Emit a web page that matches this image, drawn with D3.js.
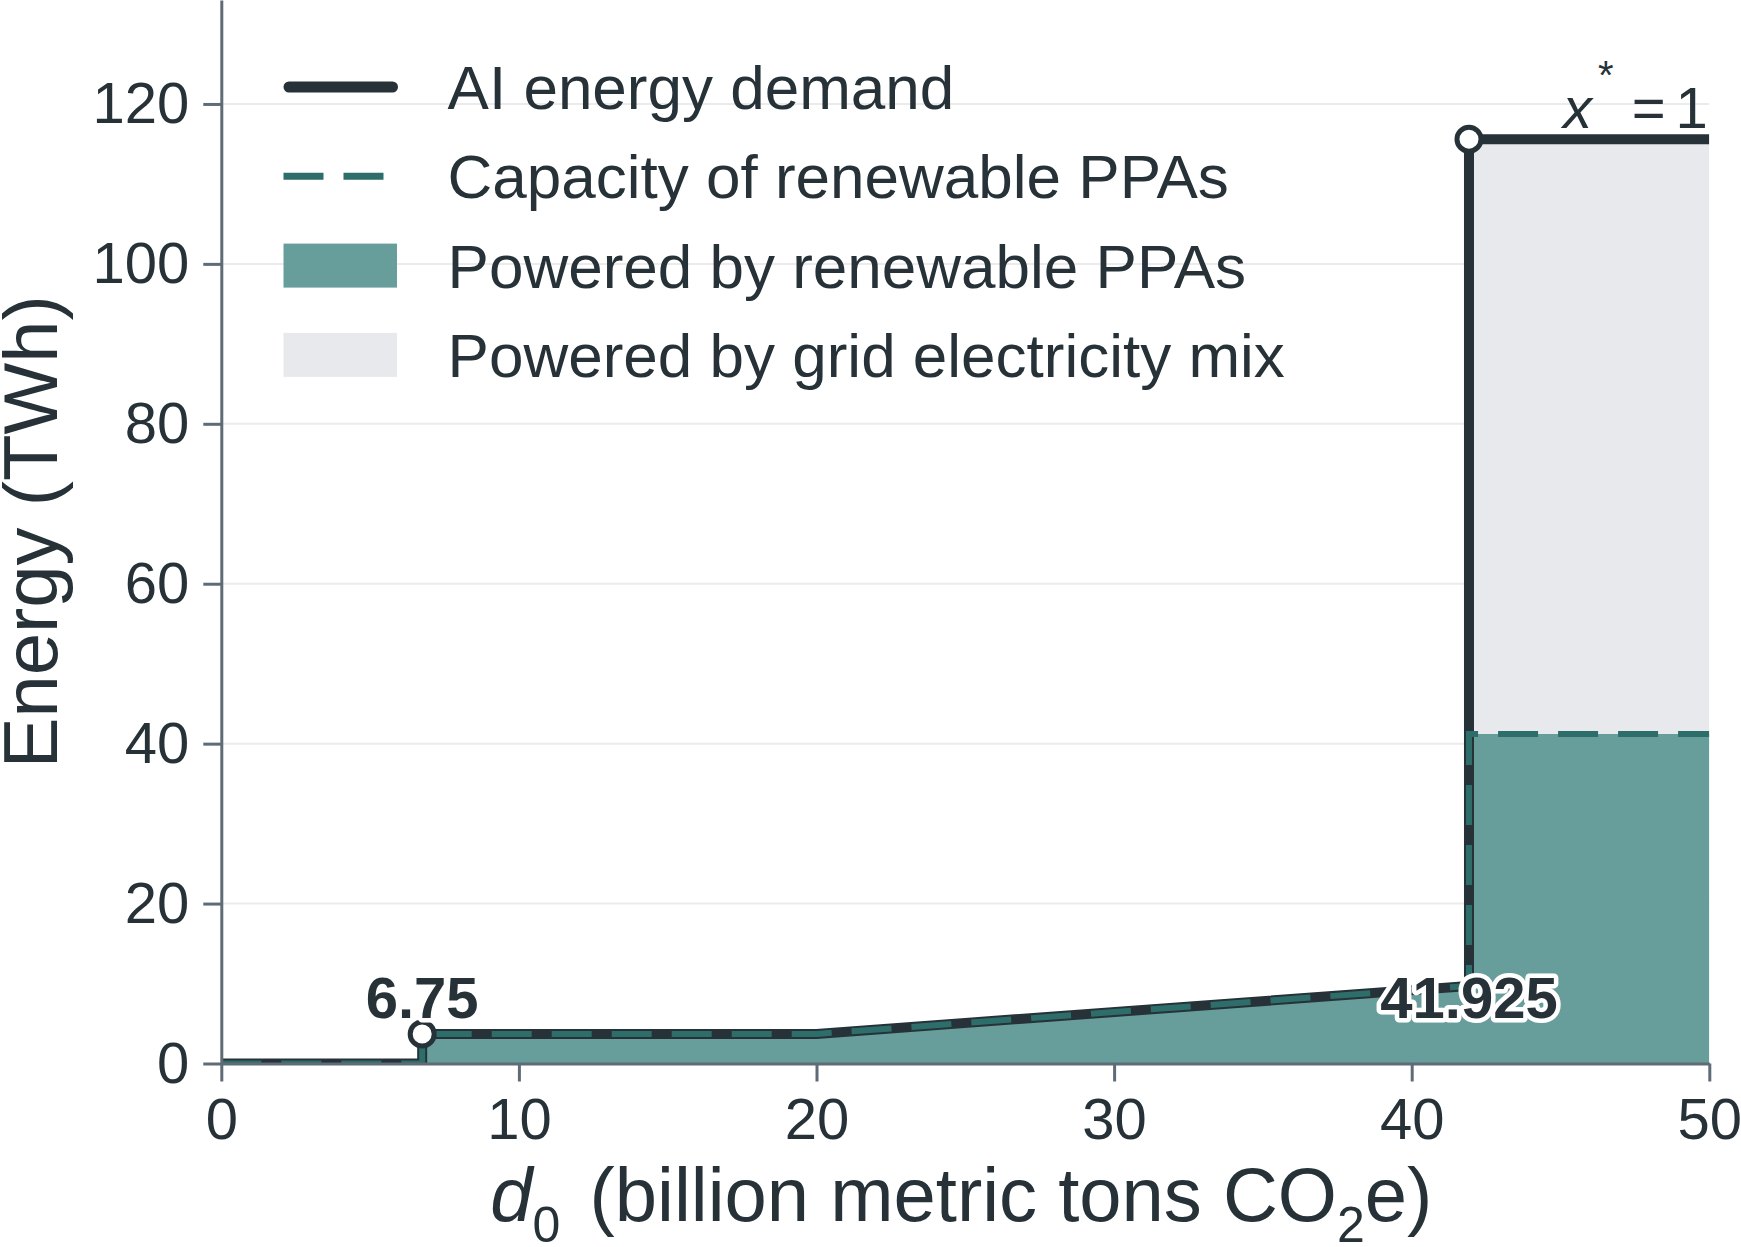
<!DOCTYPE html>
<html>
<head>
<meta charset="utf-8">
<script src="https://cdn.jsdelivr.net/npm/d3@7"></script>
<style>
body { margin: 0; background: #fff; }
text { font-family: "Liberation Sans", Arial, sans-serif; fill: #263238; }
</style>
</head>
<body>
<script>
// d0 breakpoints and the two step curves
var d0 = [0, 6.75, 6.75, 20, 41.925, 41.925, 50];
var demand = [0, 0, 3.7, 3.7, 9.7, 115.6, 115.6];
var ppaCapacity = [0, 0, 3.7, 3.7, 9.7, 41.2, 41.2];

var xTicks = [0, 10, 20, 30, 40, 50];
var yTicks = [0, 20, 40, 60, 80, 100, 120];

var markerX = [6.75, 41.925];
var markerY = [3.7, 115.6];
var markerLabels = ["6.75", "41.925"];

var legendLabels = ["AI energy demand", "Capacity of renewable PPAs",
                    "Powered by renewable PPAs", "Powered by grid electricity mix"];

var W = 1741, H = 1247;
var margin = {left: 221.3, right: 31.7, top: 0, bottom: 183.5};

var dark = "#263238", teal = "#2e6e6a", tealFill = "#679d9b",
    greyFill = "#e8e9ed", axisCol = "#5f6b76", gridCol = "#ebebeb";

var x = d3.scaleLinear().domain([0, 50]).range([margin.left, W - margin.right]);
var y = d3.scaleLinear().domain([0, 133]).range([H - margin.bottom, margin.top]);

var svg = d3.select("body").append("svg")
    .attr("width", W)
    .attr("height", H);

svg.append("defs").append("clipPath").attr("id", "plot")
    .append("rect")
    .attr("x", x(0)).attr("y", y(133))
    .attr("width", x(50) - x(0)).attr("height", y(0) - y(133));

// grid
svg.append("g").selectAll("line")
    .data(yTicks).enter().append("line")
    .attr("x1", x(0)).attr("x2", x(50))
    .attr("y1", function (d) { return y(d); })
    .attr("y2", function (d) { return y(d); })
    .attr("stroke", gridCol)
    .attr("stroke-width", 2);

var pts = d0.map(function (d, i) {
    return {x: d, dem: demand[i], ppa: ppaCapacity[i]};
});

var plot = svg.append("g").attr("clip-path", "url(#plot)");

plot.append("path").datum(pts)
    .attr("fill", greyFill)
    .attr("d", d3.area()
        .x(function (d) { return x(d.x); })
        .y0(function (d) { return y(Math.min(d.ppa, d.dem)); })
        .y1(function (d) { return y(d.dem); }));

plot.append("path").datum(pts)
    .attr("fill", tealFill)
    .attr("d", d3.area()
        .x(function (d) { return x(d.x); })
        .y0(y(0))
        .y1(function (d) { return y(Math.min(d.ppa, d.dem)); }));

plot.append("path").datum(pts)
    .attr("fill", "none")
    .attr("stroke", dark)
    .attr("stroke-width", 10)
    .attr("stroke-linejoin", "round")
    .attr("d", d3.line()
        .x(function (d) { return x(d.x); })
        .y(function (d) { return y(d.dem); }));

plot.append("path").datum(pts)
    .attr("fill", "none")
    .attr("stroke", teal)
    .attr("stroke-width", 6)
    .attr("stroke-dasharray", "40,20")
    .attr("d", d3.line()
        .x(function (d) { return x(d.x); })
        .y(function (d) { return y(d.ppa); }));

// axes
var yAxis = svg.append("g")
    .attr("transform", "translate(" + x(0) + ",0)")
    .call(d3.axisLeft(y).tickValues(yTicks).tickSize(18).tickSizeOuter(0).tickPadding(14));
var xAxis = svg.append("g")
    .attr("transform", "translate(0," + y(0) + ")")
    .call(d3.axisBottom(x).tickValues(xTicks).tickSize(18).tickSizeOuter(0).tickPadding(16));

[xAxis, yAxis].forEach(function (g) {
    g.select(".domain").attr("stroke", axisCol).attr("stroke-width", 3);
    g.selectAll(".tick line").attr("stroke", axisCol).attr("stroke-width", 3);
    g.selectAll(".tick text")
        .attr("fill", dark)
        .style("font-size", "58px")
        .style("font-family", "Liberation Sans, Arial, sans-serif");
});

// markers and labels
markerX.forEach(function (mx, i) {
    svg.append("circle")
        .attr("cx", x(mx)).attr("cy", y(markerY[i]))
        .attr("r", 12)
        .attr("fill", "#fff")
        .attr("stroke", dark)
        .attr("stroke-width", 5);
});

markerX.forEach(function (mx, i) {
    svg.append("text")
        .attr("x", x(mx)).attr("y", y(0) - 46)
        .attr("text-anchor", "middle")
        .style("font-size", "58px")
        .style("font-weight", "bold")
        .style("paint-order", "stroke")
        .style("stroke", "#fff")
        .style("stroke-width", 9)
        .style("stroke-linejoin", "round")
        .text(markerLabels[i]);
});

// x* = 1
var xs = svg.append("text")
    .attr("x", x(50) - 1.5).attr("y", 128)
    .attr("text-anchor", "end")
    .style("font-size", "58px");
xs.append("tspan").style("font-style", "italic").text("x");
xs.append("tspan").attr("dx", 6).attr("dy", -39).style("font-size", "40px").text("*");
xs.append("tspan").attr("dx", 18).attr("dy", 39).text("=");
xs.append("tspan").attr("dx", 10).text("1");

// axis titles
var xl = svg.append("text")
    .attr("x", (x(0) + x(50)) / 2 - 4).attr("y", 1221)
    .attr("text-anchor", "middle")
    .style("font-size", "76px");
xl.append("tspan").style("font-style", "italic").text("d");
xl.append("tspan").attr("dy", 21).style("font-size", "50px").text("0");
xl.append("tspan").attr("dy", -21).attr("dx", 8).text(" (billion metric tons CO");
xl.append("tspan").attr("dy", 21).style("font-size", "50px").text("2");
xl.append("tspan").attr("dy", -21).text("e)");

svg.append("text")
    .attr("transform", "translate(57," + (y(0) + y(133)) / 2 + ") rotate(-90)")
    .attr("text-anchor", "middle")
    .style("font-size", "76px")
    .text("Energy (TWh)");

// legend
var lx = 283.5, lTextX = 447.6, lBase = 109, lStep = 89.3;
var leg = svg.append("g");
leg.append("line")
    .attr("x1", lx + 5.5).attr("x2", lx + 109)
    .attr("y1", lBase - 22).attr("y2", lBase - 22)
    .attr("stroke", dark).attr("stroke-width", 11).attr("stroke-linecap", "round");
leg.append("line")
    .attr("x1", lx).attr("x2", lx + 100)
    .attr("y1", lBase + lStep - 22).attr("y2", lBase + lStep - 22)
    .attr("stroke", teal).attr("stroke-width", 7).attr("stroke-dasharray", "40,20");
leg.append("rect")
    .attr("x", lx).attr("y", lBase + 2 * lStep - 44)
    .attr("width", 113.5).attr("height", 44)
    .attr("fill", tealFill);
leg.append("rect")
    .attr("x", lx).attr("y", lBase + 3 * lStep - 44)
    .attr("width", 113.5).attr("height", 44)
    .attr("fill", greyFill);
leg.selectAll("text.lab")
    .data(legendLabels).enter().append("text")
    .attr("class", "lab")
    .attr("x", lTextX)
    .attr("y", function (d, i) { return lBase + i * lStep; })
    .style("font-size", "62px")
    .text(function (d) { return d; });
</script>
</body>
</html>
